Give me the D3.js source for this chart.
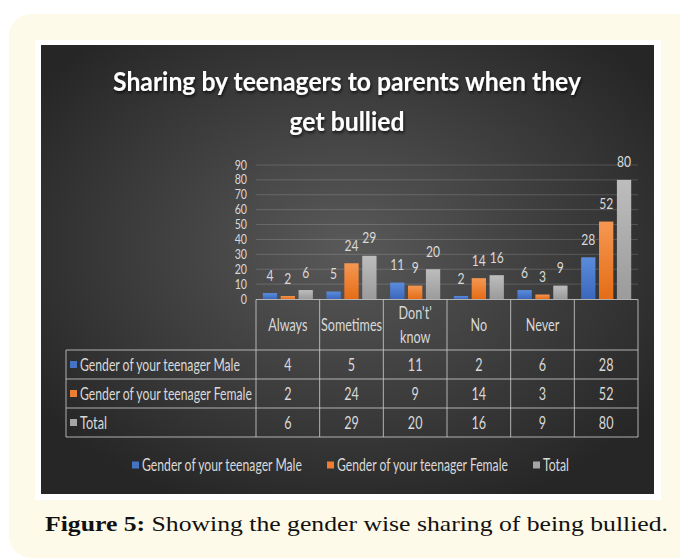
<!DOCTYPE html>
<meta charset="utf-8">
<style>
body { margin: 0; background: #fff; }
text { font-family: Lato, "Open Sans", sans-serif; }
.lbl { fill: #d9d9d9; font-size: 17px; }
.title { fill: #fff; font-size: 27px; font-weight: bold; }
.cap { font-family: "Liberation Serif", "DejaVu Serif", serif; font-size: 22px; fill: #111; }
</style>
<svg width="680" height="560"></svg>
<script src="https://d3js.org/d3.v7.min.js"></script>
<script>

var categories = ["Always", "Sometimes", "Don't'\nknow", "No", "Never", ""],
    seriesNames = ["Gender of your teenager Male", "Gender of your teenager Female", "Total"],
    male = [4, 5, 11, 2, 6, 28],
    female = [2, 24, 9, 14, 3, 52],
    total = [6, 29, 20, 16, 9, 80],
    yTicks = [0, 10, 20, 30, 40, 50, 60, 70, 80, 90];

var series = [male, female, total],
    colors = [["#5b8ddc", "#3b67bd"], ["#f59752", "#e56d16"], ["#bdbdbd", "#9b9b9b"]],
    solid = ["#4472c4", "#ed7d31", "#a5a5a5"];

var svg = d3.select("svg"),
    defs = svg.append("defs");

// background gradient
var rg = defs.append("radialGradient").attr("id", "bg")
    .attr("cx", "50%").attr("cy", "45%").attr("r", "62%");
rg.append("stop").attr("offset", "0%").attr("stop-color", "#595959");
rg.append("stop").attr("offset", "100%").attr("stop-color", "#262626");

colors.forEach(function(c, i) {
  var lg = defs.append("linearGradient").attr("id", "bar" + i)
      .attr("x1", 0).attr("y1", 0).attr("x2", 0).attr("y2", 1);
  lg.append("stop").attr("offset", "0%").attr("stop-color", c[0]);
  lg.append("stop").attr("offset", "100%").attr("stop-color", c[1]);
});

defs.append("filter").attr("id", "shadow")
    .attr("x", "-10%").attr("y", "-20%").attr("width", "120%").attr("height", "150%")
  .append("feDropShadow")
    .attr("dx", 1).attr("dy", 2).attr("stdDeviation", 1.5)
    .attr("flood-color", "#000").attr("flood-opacity", 0.7);

// page frame
svg.append("rect").attr("x", 9).attr("y", 14).attr("width", 690).attr("height", 544)
    .attr("rx", 22).attr("fill", "#fefae9");
svg.append("rect").attr("x", 35).attr("y", 40).attr("width", 626).attr("height", 460)
    .attr("fill", "#fff");
svg.append("rect").attr("x", 41).attr("y", 45).attr("width", 613).attr("height", 449)
    .attr("fill", "url(#bg)");

// title
svg.append("text").attr("class", "title").attr("x", 347).attr("y", 91)
    .attr("text-anchor", "middle").attr("filter", "url(#shadow)")
    .attr("textLength", 468).attr("lengthAdjust", "spacingAndGlyphs")
    .text("Sharing by teenagers to parents when they");
svg.append("text").attr("class", "title").attr("x", 347).attr("y", 131)
    .attr("text-anchor", "middle").attr("filter", "url(#shadow)")
    .attr("textLength", 115).attr("lengthAdjust", "spacingAndGlyphs")
    .text("get bullied");

// condensed text helper: squeeze natural width by sx
function ctext(g, x, y, s, anchor, size, sx) {
  var t = g.append("text").attr("class", "lbl")
      .attr("x", x).attr("y", y)
      .attr("text-anchor", anchor || "middle")
      .attr("dy", "0.36em")
      .style("font-size", (size || 17) + "px")
      .text(s);
  if (String(s).length) {
    t.attr("textLength", t.node().getComputedTextLength() * (sx || 0.74))
     .attr("lengthAdjust", "spacingAndGlyphs");
  }
  return t;
}

// left-aligned label squeezed to a given width with a transform
function wtext(g, x, y, s, w) {
  var t = g.append("text").attr("class", "lbl").attr("dy", "0.36em").text(s);
  var k = w / t.node().getComputedTextLength();
  t.attr("transform", "translate(" + x + "," + y + ") scale(" + k + ",1)");
  return t;
}

var x0 = d3.scaleBand().domain(d3.range(categories.length)).range([256, 638]),
    x1 = d3.scaleBand().domain(d3.range(series.length)).range([0, x0.bandwidth()])
      .paddingInner(0.2).paddingOuter(0.38),
    y = d3.scaleLinear().domain([0, 90]).range([299, 165]);

// gridlines
svg.append("g").selectAll("line").data(yTicks.slice(1)).join("line")
    .attr("x1", 256).attr("x2", 638)
    .attr("y1", function(d) { return y(d); }).attr("y2", function(d) { return y(d); })
    .attr("stroke", "#fff").attr("stroke-opacity", 0.16);

// y labels
var yg = svg.append("g");
yTicks.forEach(function(t) { ctext(yg, 247, y(t), t, "end", 12.5, 0.85); });

// bars
var bars = svg.append("g");
series.forEach(function(vals, s) {
  bars.selectAll(".s" + s).data(vals).join("rect")
      .attr("x", function(d, i) { return x0(i) + x1(s); })
      .attr("y", function(d) { return y(d); })
      .attr("width", x1.bandwidth())
      .attr("height", function(d) { return y(0) - y(d); })
      .attr("fill", "url(#bar" + s + ")");
  vals.forEach(function(d, i) {
    ctext(bars, x0(i) + x1(s) + x1.bandwidth() / 2, y(d) - 18, d, "middle", 15.5, 0.78);
  });
});

// data table
var rowY = [350, 379, 408, 437],
    tl = svg.append("g").attr("stroke", "#c8c8c8").attr("stroke-opacity", 0.85);
tl.append("line").attr("x1", 256).attr("x2", 638).attr("y1", 299.5).attr("y2", 299.5);
rowY.forEach(function(r) {
  tl.append("line").attr("x1", 66).attr("x2", 638).attr("y1", r).attr("y2", r);
});
tl.append("line").attr("x1", 66).attr("x2", 66).attr("y1", 350).attr("y2", 437);
d3.range(categories.length + 1).forEach(function(i) {
  var xx = i < categories.length ? x0(i) : 638;
  tl.append("line").attr("x1", xx).attr("x2", xx).attr("y1", 299.5).attr("y2", 437);
});

var tg = svg.append("g");
categories.forEach(function(c, i) {
  var lines = c.split("\n"),
      cx = x0(i) + x0.bandwidth() / 2;
  lines.forEach(function(l, k) {
    ctext(tg, cx, 325 + (k - (lines.length - 1) / 2) * 24, l);
  });
});

var rowW = [160, 172, 27];
series.forEach(function(vals, s) {
  var cy = (rowY[s] + rowY[s + 1]) / 2;
  tg.append("rect").attr("x", 70).attr("y", cy - 3.5).attr("width", 7).attr("height", 7)
      .attr("fill", solid[s]);
  wtext(tg, 80, cy, seriesNames[s], rowW[s]);
  vals.forEach(function(d, i) {
    ctext(tg, x0(i) + x0.bandwidth() / 2, cy, d);
  });
});

// legend
var legX = [132, 327, 533],
    legW = [160, 171, 26],
    lg = svg.append("g");
seriesNames.forEach(function(n, s) {
  lg.append("rect").attr("x", legX[s]).attr("y", 461.5).attr("width", 7).attr("height", 7)
      .attr("fill", solid[s]);
  wtext(lg, legX[s] + 10, 465, n, legW[s]);
});

// caption
var cap = svg.append("text").attr("class", "cap").attr("x", 45).attr("y", 531)
    .attr("textLength", 623).attr("lengthAdjust", "spacingAndGlyphs");
cap.append("tspan").attr("font-weight", "bold").text("Figure 5:");
cap.append("tspan").text(" Showing the gender wise sharing of being bullied.");

</script>
